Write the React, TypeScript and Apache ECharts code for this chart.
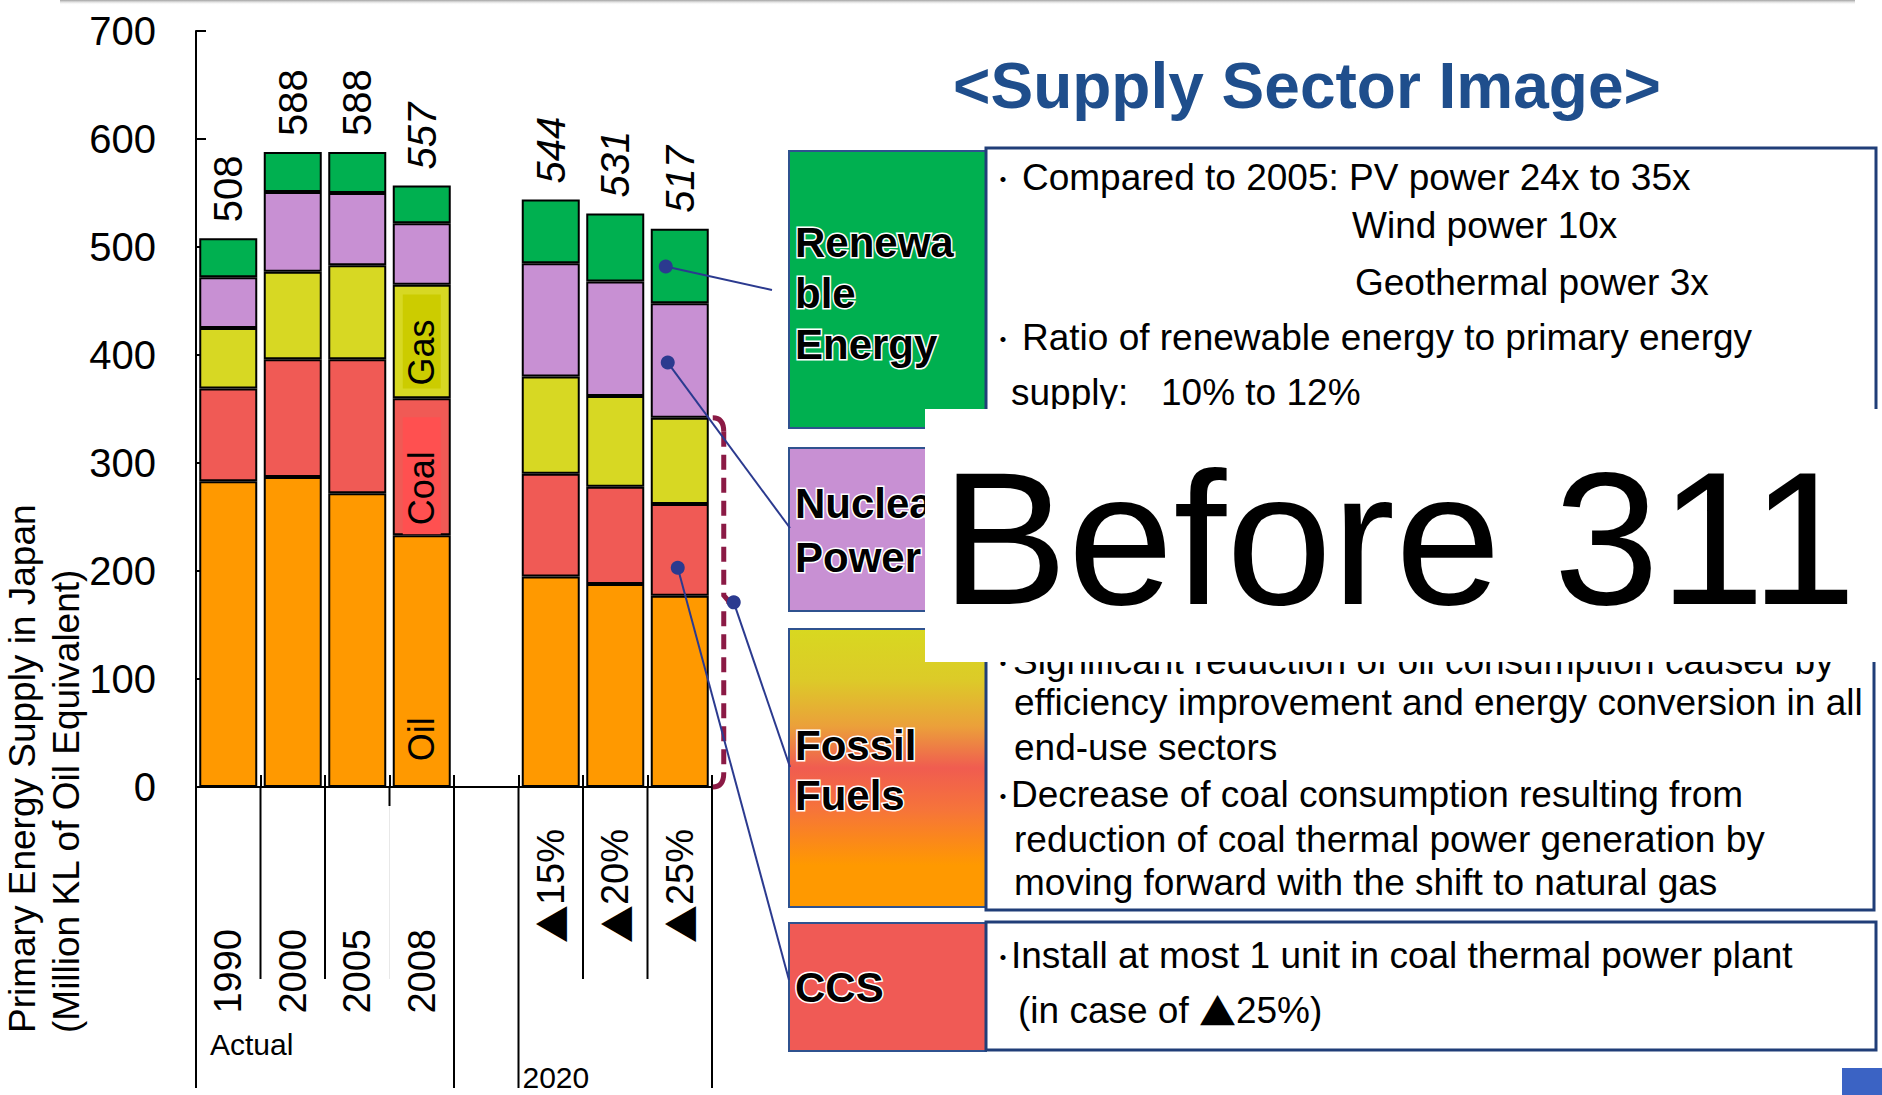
import React, { useEffect, useRef } from 'react';
import * as echarts from 'echarts';

// ---------------- data ----------------
const categories = ['1990', '2000', '2005', '2008', '', '▲15%', '▲20%', '▲25%'];
const oilValues = [283, 287, 272, 233, null, 195, 188, 177];
const coalValues = [86, 109, 124, 127, null, 95, 90, 85];
const gasValues = [56, 81, 87, 105, null, 90, 84, 80];
const nuclearValues = [47, 74, 67, 57, null, 105, 106, 106];
const renewableValues = [36, 37, 38, 35, null, 59, 63, 69];
const totalLabels = ['508', '588', '588', '557', '', '544', '531', '517'];
const italicTotals = [false, false, false, true, false, true, true, true];
const groupLabels = ['Actual', '2020'];
const yAxisTitle = ['Primary Energy Supply in Japan', '(Million KL of Oil Equivalent)'];
const segmentNames = ['Oil', 'Coal', 'Gas', 'Nuclear', 'Renewable'];
const insideLabelIndex = 3; // "Oil / Coal / Gas" written inside the 2008 bar
const highlightIndex = 7; // ▲25% bar, annotated
// annotation anchors (data values on the ▲25% bar)
const renewableAnchor = 482;
const nuclearAnchor = 393;
const coalAnchor = 203;

const titleText = '<Supply Sector Image>';
const stampText = 'Before 311';

const FONT = '"Liberation Sans", Arial, "Noto Sans CJK JP", "DejaVu Sans", sans-serif';
const CJK = '"Noto Sans CJK JP", "Liberation Sans", sans-serif';
const COLORS = {
  oil: '#FF9900',
  coal: '#F05A55',
  gas: '#D7D823',
  nuclear: '#C890D3',
  renewable: '#00B050',
};
const NAVY = '#2B3A8F';
const MAROON = '#8B1A45';
const BOX_BORDER = '#2F528F';
const TEXTBOX_BORDER = '#203E78';

function buildOption(): any {
  const barBase = {
    type: 'bar',
    stack: 'total',
    barWidth: 58,
    animation: false,
  };
  const insideLbl = (text: string, extra: any) => ({
    show: true,
    formatter: text,
    rotate: 90,
    position: 'inside',
    fontSize: 36,
    lineHeight: 38,
    color: '#000',
    fontFamily: FONT,
    ...extra,
  });
  return {
    animation: false,
    backgroundColor: '#fff',
    grid: { left: 196, right: 1170, top: 31, bottom: 308, containLabel: false },
    xAxis: {
      type: 'category',
      data: categories,
      axisLine: { show: true, lineStyle: { color: '#000', width: 2 } },
      axisTick: { show: true, inside: true, length: 12, lineStyle: { color: '#000', width: 2 } },
      axisLabel: {
        interval: 0,
        rotate: 90,
        margin: 42,
        fontSize: 38,
        color: '#000',
        fontFamily: FONT,
        formatter: (v: string) =>
          v === '' ? '' : v.startsWith('▲') ? `{t|▲}{p|${v.slice(1)}}` : `{y|${v}}`,
        rich: {
          y: { padding: [0, 100, 0, 0], fontSize: 38, color: '#000', fontFamily: FONT },
          t: { fontSize: 38, color: '#000', fontFamily: CJK },
          p: { fontSize: 38, color: '#000', fontFamily: FONT },
        },
      },
      splitLine: { show: false },
    },
    yAxis: {
      type: 'value',
      min: 0,
      max: 700,
      interval: 100,
      axisLine: { show: true, lineStyle: { color: '#000', width: 2 } },
      axisTick: { show: true, inside: true, length: 10, lineStyle: { color: '#000', width: 2 } },
      axisLabel: { fontSize: 40, color: '#000', margin: 40, fontFamily: FONT },
      splitLine: { show: false },
    },
    series: [
      {
        ...barBase,
        name: segmentNames[0],
        itemStyle: { color: COLORS.oil, borderColor: '#000', borderWidth: 2 },
        data: oilValues.map((v, i) =>
          i === insideLabelIndex ? { value: v, label: insideLbl('Oil', { offset: [-78, 0] }) } : v
        ),
      },
      {
        ...barBase,
        name: segmentNames[1],
        itemStyle: { color: COLORS.coal, borderColor: '#000', borderWidth: 2 },
        data: coalValues.map((v, i) =>
          i === insideLabelIndex
            ? {
                value: v,
                label: insideLbl('Coal', {
                  backgroundColor: '#FF5050',
                  padding: [0, 34, 0, 9],
                  offset: [-9, 0],
                }),
              }
            : v
        ),
      },
      {
        ...barBase,
        name: segmentNames[2],
        itemStyle: { color: COLORS.gas, borderColor: '#000', borderWidth: 2 },
        data: gasValues.map((v, i) =>
          i === insideLabelIndex
            ? {
                value: v,
                label: insideLbl('Gas', { backgroundColor: '#CCCC00', padding: [0, 25, 0, 3] }),
              }
            : v
        ),
      },
      {
        ...barBase,
        name: segmentNames[3],
        itemStyle: { color: COLORS.nuclear, borderColor: '#000', borderWidth: 2 },
        data: nuclearValues,
      },
      {
        ...barBase,
        name: segmentNames[4],
        itemStyle: { color: COLORS.renewable, borderColor: '#000', borderWidth: 2 },
        label: {
          show: true,
          position: 'top',
          rotate: 90,
          align: 'left',
          verticalAlign: 'middle',
          distance: 16,
          fontSize: 40,
          color: '#000',
          fontFamily: FONT,
          formatter: (p: any) => totalLabels[p.dataIndex],
        },
        data: renewableValues.map((v, i) => ({
          value: v,
          label: { fontStyle: italicTotals[i] ? 'italic' : 'normal' },
        })),
      },
    ],
  };
}

// ---------------- right panel text ----------------
const renewableNotes = [
  { t: 'Compared to 2005: PV power 24x to 35x', x: 1022, y: 177, b: true },
  { t: 'Wind power 10x', x: 1352, y: 225 },
  { t: 'Geothermal power 3x', x: 1355, y: 282 },
  { t: 'Ratio of renewable energy to primary energy', x: 1022, y: 337, b: true },
  { t: 'supply:', x: 1011, y: 392 },
  { t: '10% to 12%', x: 1161, y: 392 },
];
const fossilNotes = [
  { t: 'Significant reduction of oil consumption caused by', x: 1013, y: 661, b: true },
  { t: 'efficiency improvement and energy conversion in all', x: 1014, y: 702 },
  { t: 'end-use sectors', x: 1014, y: 747 },
  { t: 'Decrease of coal consumption resulting from', x: 1011, y: 794, b: true },
  { t: 'reduction of coal thermal power generation by', x: 1014, y: 839 },
  { t: 'moving forward with the shift to natural gas', x: 1014, y: 882 },
];
const ccsNotes = [
  { t: 'Install at most 1 unit in coal thermal power plant', x: 1011, y: 955, b: true },
  { t: '(in case of ', x: 1018, y: 1010, tri: '25%)' },
];

export default function App() {
  const ref = useRef<HTMLDivElement>(null);
  useEffect(() => {
    const el = ref.current as HTMLDivElement;
    const chart = echarts.init(el, null, { renderer: 'svg' });
    chart.setOption(buildOption());

    const px = (i: number, v: number) => chart.convertToPixel({ gridIndex: 0 }, [i, v]) as number[];
    const c0 = px(0, 0);
    const c1 = px(1, 0);
    const slot = c1[0] - c0[0];
    const y0 = c0[1];
    const bound = (k: number) => c0[0] - slot / 2 + k * slot;

    const els: any[] = [];
    const line = (x1: number, y1: number, x2: number, y2: number, stroke: string, w: number, z = 5, dash?: number[]) =>
      els.push({ type: 'line', z, shape: { x1, y1, x2, y2 }, style: { stroke, lineWidth: w, lineDash: dash } });
    const rect = (x: number, y: number, w: number, h: number, style: any, z = 10) =>
      els.push({ type: 'rect', z, shape: { x, y, width: w, height: h }, style });
    const text = (t: string, x: number, y: number, size: number, extra: any = {}, z = 12, rotation = 0) =>
      els.push({
        type: 'text',
        z,
        x,
        y,
        rotation,
        style: {
          text: t,
          fill: '#000',
          fontSize: size,
          fontFamily: FONT,
          align: 'left',
          verticalAlign: 'middle',
          ...extra,
        },
      });

    // top grey edge
    rect(60, 0, 1795, 5, {
      fill: new echarts.graphic.LinearGradient(0, 0, 0, 1, [
        { offset: 0, color: 'rgba(150,150,150,0.9)' },
        { offset: 1, color: 'rgba(255,255,255,0)' },
      ]),
    }, 1);

    // separators under the category axis
    const shortBottom = y0 + 192;
    const longBottom = y0 + 301;
    [1, 2, 6, 7].forEach((k) => line(bound(k), y0, bound(k), shortBottom, '#000', 2));
    line(bound(3), y0, bound(3), shortBottom, '#e8e8e8', 1);
    line(bound(3), y0, bound(3), y0 + 19, '#000', 2);
    [0, 4, 5, 8].forEach((k) => line(bound(k), y0, bound(k), longBottom, '#000', 2));

    // group labels
    text(groupLabels[0], bound(0) + 14, y0 + 257, 30);
    text(groupLabels[1], bound(5) + 4, y0 + 290, 30);

    // y axis title
    text(yAxisTitle.join('\n'), 44, y0 + 246, 37, { lineHeight: 44 }, 12, Math.PI / 2);

    // title
    text(titleText, 1307, 86, 64, {
      align: 'center',
      fontWeight: 'bold',
      fill: '#1F4E8C',
      shadowColor: 'rgba(0,0,0,0.35)',
      shadowBlur: 3,
      shadowOffsetX: 3,
      shadowOffsetY: 3,
    }, 12);

    // ---- right panel ----
    const boxLabelStyle = {
      fontWeight: 'bold',
      fill: '#000',
      stroke: '#fff',
      lineWidth: 3,
      shadowColor: 'rgba(70,20,20,0.6)',
      shadowBlur: 2,
      shadowOffsetX: 2,
      shadowOffsetY: 3,
    };
    // Renewable
    rect(789, 151, 197, 277, { fill: COLORS.renewable, stroke: BOX_BORDER, lineWidth: 2 });
    rect(986, 148, 890, 285, { fill: '#fff', stroke: TEXTBOX_BORDER, lineWidth: 3 });
    ['Renewa', 'ble', 'Energy'].forEach((t, i) => text(t, 795, 242 + i * 51, 42, boxLabelStyle, 13));
    // Nuclear
    rect(789, 448, 197, 163, { fill: COLORS.nuclear, stroke: BOX_BORDER, lineWidth: 2 });
    ['Nuclear', 'Power'].forEach((t, i) => text(t, 795, 503 + i * 54, 42, boxLabelStyle, 13));
    // Fossil
    rect(789, 629, 197, 278, {
      fill: new echarts.graphic.LinearGradient(0, 0, 0, 1, [
        { offset: 0, color: '#D8D820' },
        { offset: 0.18, color: '#DCCB28' },
        { offset: 0.35, color: '#EBA03A' },
        { offset: 0.5, color: '#F05C50' },
        { offset: 0.65, color: '#F6743A' },
        { offset: 0.85, color: '#FF9900' },
        { offset: 1, color: '#FF9900' },
      ]),
      stroke: BOX_BORDER,
      lineWidth: 2,
    });
    rect(986, 628, 888, 282, { fill: '#fff', stroke: TEXTBOX_BORDER, lineWidth: 3 });
    ['Fossil', 'Fuels'].forEach((t, i) => text(t, 795, 745 + i * 50, 42, boxLabelStyle, 13));
    // CCS
    rect(789, 923, 197, 128, { fill: COLORS.coal, stroke: BOX_BORDER, lineWidth: 2 });
    rect(986, 922, 890, 128, { fill: '#fff', stroke: TEXTBOX_BORDER, lineWidth: 3 });
    text('CCS', 795, 987, 42, boxLabelStyle, 13);

    [...renewableNotes, ...fossilNotes, ...ccsNotes].forEach((n: any) => {
      if (n.b) text('･', 1003, n.y, 26, { align: 'center', fontFamily: CJK, fontWeight: 'bold' }, 12);
      if (n.tri) {
        text(`${n.t}{t|▲}${n.tri}`, n.x, n.y, 37, {
          rich: { t: { fontSize: 37, fontFamily: CJK, fill: '#000' } },
        }, 12);
      } else {
        text(n.t, n.x, n.y, 37, {}, 12);
      }
    });

    // "Before 311" cover
    rect(925, 409, 957, 253, { fill: '#fff' }, 20);
    text(stampText, 941, 538, 190, {}, 21);

    // bottom-right marker
    rect(1842, 1068, 40, 27, { fill: '#3B63C4' }, 5);

    // ---- bracket on the ▲25% bar ----
    const hc = px(highlightIndex, 0);
    const fossilTop = (oilValues[highlightIndex] as number) + (coalValues[highlightIndex] as number) + (gasValues[highlightIndex] as number);
    const yTop = px(highlightIndex, fossilTop)[1];
    const yBot = y0;
    const xb = hc[0] + 29 + 15;
    const yMid = (yTop + yBot) / 2;
    const bstyle = { stroke: MAROON, lineWidth: 5, fill: null };
    els.push({ type: 'bezierCurve', z: 30, shape: { x1: xb - 11, y1: yTop, cpx1: xb, cpy1: yTop, x2: xb, y2: yTop + 14 }, style: bstyle });
    els.push({ type: 'bezierCurve', z: 30, shape: { x1: xb, y1: yBot - 14, cpx1: xb, cpy1: yBot, x2: xb - 11, y2: yBot }, style: bstyle });
    els.push({
      type: 'polyline',
      z: 30,
      shape: { points: [[xb, yTop + 14], [xb, yMid - 7], [xb + 6, yMid], [xb, yMid + 7], [xb, yBot - 14]] },
      style: { ...bstyle, lineDash: [15, 8] },
    });

    // ---- connectors ----
    const connect = (sx: number, sy: number, tx: number, ty: number) => {
      line(sx, sy, tx, ty, NAVY, 2, 31);
      els.push({ type: 'circle', z: 32, shape: { cx: sx, cy: sy, r: 7 }, style: { fill: NAVY } });
    };
    const pr = px(highlightIndex, renewableAnchor);
    connect(pr[0] - 14, pr[1], 772, 290);
    const pn = px(highlightIndex, nuclearAnchor);
    connect(pn[0] - 12, pn[1], 790, 528);
    connect(xb + 10, yMid, 790, 767);
    const pc = px(highlightIndex, coalAnchor);
    connect(pc[0] - 2, pc[1], 789, 980);

    chart.setOption({ graphic: els });
    return () => chart.dispose();
  }, []);
  return (
    <div
      ref={ref}
      style={{ position: 'fixed', left: 0, top: 0, width: 1882, height: 1095, background: '#fff' }}
    />
  );
}
